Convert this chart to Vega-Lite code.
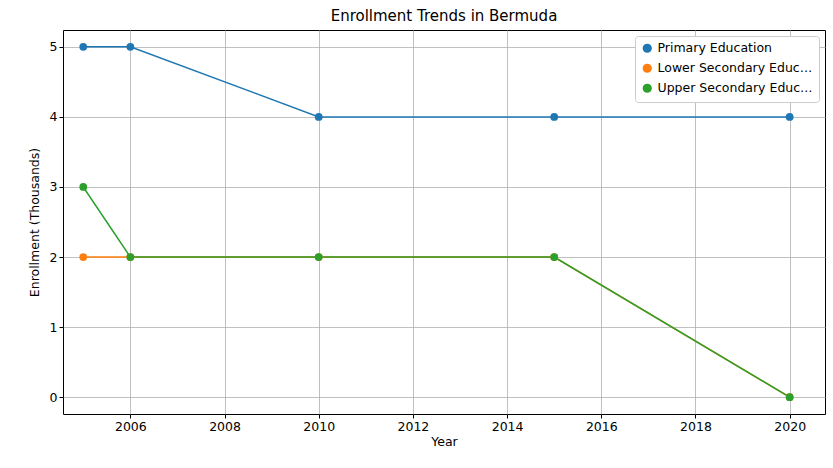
{
  "$schema": "https://vega.github.io/schema/vega-lite/v6.json",
  "autosize": "none",
  "width": 762,
  "height": 384,
  "padding": {"left": 63, "top": 30, "right": 8, "bottom": 54},
  "background": "white",
  "title": {"text": "Enrollment Trends in Bermuda", "fontSize": 15, "fontWeight": "normal", "font": "DejaVu Sans", "offset": 6},
  "config": {
    "font": "DejaVu Sans",
    "view": {"stroke": "black", "strokeWidth": 1},
    "axis": {"grid": true, "gridColor": "#b0b0b0", "gridWidth": 0.8, "domain": false, "tickColor": "black", "tickSize": 4, "labelColor": "black", "labelFontSize": 12.5, "titleFontSize": 12.5, "titleFontWeight": "normal", "labelFont": "DejaVu Sans", "titleFont": "DejaVu Sans"}
  },
  "data": {"values": [
    {"Year": 2005, "Level": "Primary Education", "Enrollment": 5},
    {"Year": 2006, "Level": "Primary Education", "Enrollment": 5},
    {"Year": 2010, "Level": "Primary Education", "Enrollment": 4},
    {"Year": 2015, "Level": "Primary Education", "Enrollment": 4},
    {"Year": 2020, "Level": "Primary Education", "Enrollment": 4},
    {"Year": 2005, "Level": "Lower Secondary Education", "Enrollment": 2},
    {"Year": 2006, "Level": "Lower Secondary Education", "Enrollment": 2},
    {"Year": 2010, "Level": "Lower Secondary Education", "Enrollment": 2},
    {"Year": 2015, "Level": "Lower Secondary Education", "Enrollment": 2},
    {"Year": 2020, "Level": "Lower Secondary Education", "Enrollment": 0},
    {"Year": 2005, "Level": "Upper Secondary Education", "Enrollment": 3},
    {"Year": 2006, "Level": "Upper Secondary Education", "Enrollment": 2},
    {"Year": 2010, "Level": "Upper Secondary Education", "Enrollment": 2},
    {"Year": 2015, "Level": "Upper Secondary Education", "Enrollment": 2},
    {"Year": 2020, "Level": "Upper Secondary Education", "Enrollment": 0}
  ]},
  "encoding": {
    "x": {"field": "Year", "type": "quantitative", "title": "Year",
      "scale": {"domain": [2004.57, 2020.75], "nice": false, "zero": false},
      "axis": {"values": [2006, 2008, 2010, 2012, 2014, 2016, 2018, 2020], "format": "d", "titlePadding": 3}},
    "y": {"field": "Enrollment", "type": "quantitative", "title": "Enrollment (Thousands)",
      "scale": {"domain": [-0.24, 5.24], "nice": false, "zero": false},
      "axis": {"values": [0, 1, 2, 3, 4, 5], "titlePadding": 8}},
    "color": {"field": "Level", "type": "nominal",
      "scale": {"domain": ["Primary Education", "Lower Secondary Education", "Upper Secondary Education"], "range": ["#1f77b4", "#ff7f0e", "#2ca02c"]},
      "legend": {"title": null, "orient": "top-right", "offset": 6, "fillColor": "white", "strokeColor": "#cccccc", "padding": 6, "cornerRadius": 3, "labelFontSize": 12.5, "symbolType": "circle", "symbolSize": 60, "rowPadding": 5}},
    "order": {"field": "Year"}
  },
  "layer": [
    {"mark": {"type": "line", "strokeWidth": 1.5}},
    {"mark": {"type": "point", "filled": true, "size": 60, "opacity": 1}}
  ]
}
